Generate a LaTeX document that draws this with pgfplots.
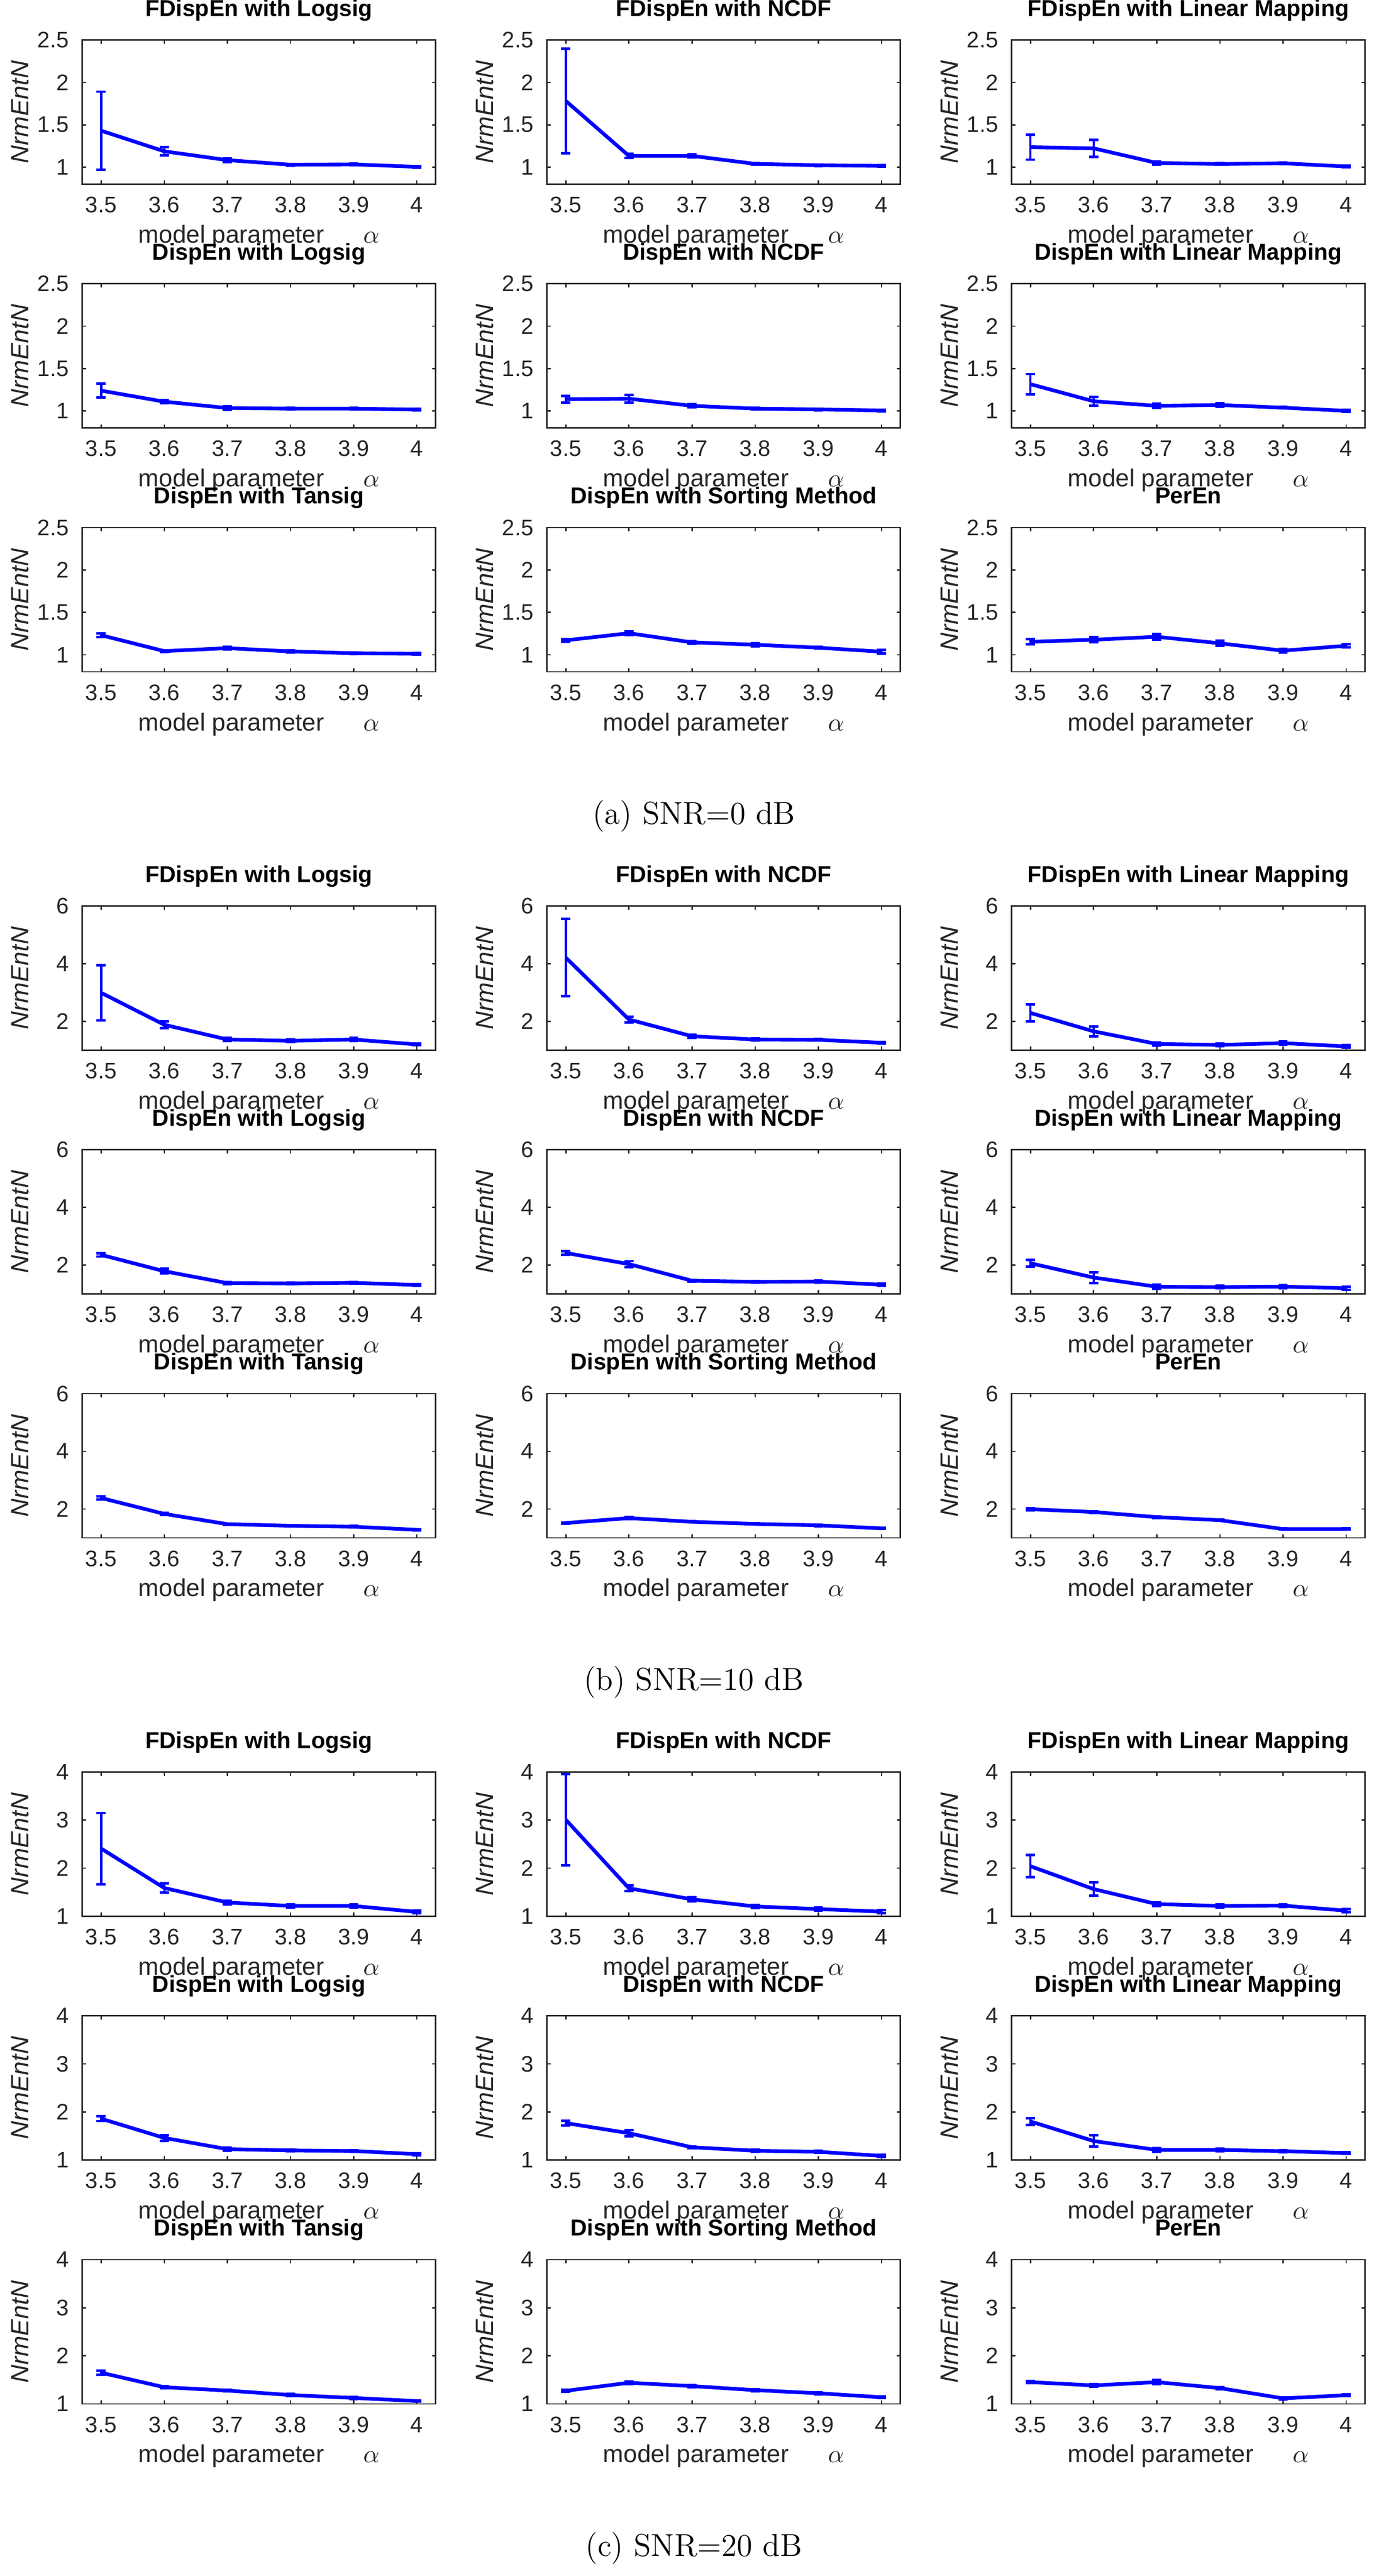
\documentclass[border=0pt]{standalone}
\usepackage{fontspec}
\usepackage{pgfplots}
\pgfplotsset{compat=1.18}
\newfontfamily\sansf{Liberation Sans}
\definecolor{axgray}{rgb}{0.15,0.15,0.15}
\pgfplotsset{
  panel/.style={
    width=154pt, height=62.8pt, scale only axis, anchor=north west,
    xmin=3.47, xmax=4.03,
    xtick={3.5,3.6,3.7,3.8,3.9,4}, xticklabels={3.5,3.6,3.7,3.8,3.9,4},
    tick align=inside, major tick length=1.6pt,
    axis line style={axgray, line width=0.6pt},
    every tick/.style={axgray, line width=0.6pt},
    tick label style={font=\sansf\fontsize{9.8}{10}\selectfont, text=axgray},
    /pgf/number format/assume math mode=true,
    xticklabel style={anchor=base, inner sep=0pt, yshift=-12.4pt},
    yticklabel style={anchor=east, inner sep=0pt, xshift=-5.6pt},
    title style={font=\sansf\bfseries\fontsize{10}{12}\selectfont, inner sep=0pt, at={(axis description cs:0.5,1)}, anchor=base, yshift=4.4pt},
    xlabel={model parameter\hspace{17pt}$\alpha$},
    xlabel style={font=\sansf\fontsize{10.7}{12}\selectfont, inner sep=0pt, text=axgray, at={(axis description cs:0.5,0)}, anchor=base, yshift=-25.6pt},
    ylabel={\itshape NrmEntN},
    ylabel style={font=\sansf\fontsize{10.9}{12}\selectfont, inner sep=0pt, text=axgray, at={(axis description cs:-0.175,0.5)}, anchor=center},
  },
  ga/.style={ymin=0.8, ymax=2.5, ytick={1,1.5,2,2.5}, yticklabels={1,1.5,2,2.5}},
  gb/.style={ymin=1, ymax=6, ytick={2,4,6}, yticklabels={2,4,6}},
  gc/.style={ymin=1, ymax=4, ytick={1,2,3,4}, yticklabels={1,2,3,4}},
  ser/.style={blue, line width=1.6pt, line join=round, mark=none,
    error bars/.cd, y dir=both, y explicit,
    error bar style={line width=1pt, blue},
    error mark options={rotate=90, line width=1.1pt, mark size=2pt, blue}},
}
\newcommand{\pnl}[5]{%
\begin{axis}[panel,#1,at={(#2,#3)},title={#4}]
\addplot[ser] coordinates {#5};
\end{axis}}
\begin{document}
\begin{tikzpicture}
\path[use as bounding box] (0,0) rectangle (598.4pt,-1122pt);
% ---------------- (a) SNR = 0 dB
\pnl{ga}{35.8pt}{-17.4pt}{FDispEn with Logsig}{(3.5,1.43) +- (0,0.46) (3.6,1.187) +- (0,0.05) (3.7,1.083) +- (0,0.02) (3.8,1.029) +- (0,0.01) (3.9,1.033) +- (0,0.01) (4,1.004) +- (0,0.01)}
\pnl{ga}{238.2pt}{-17.4pt}{FDispEn with NCDF}{(3.5,1.781) +- (0,0.615) (3.6,1.133) +- (0,0.025) (3.7,1.133) +- (0,0.02) (3.8,1.039) +- (0,0.01) (3.9,1.023) +- (0,0.01) (4,1.015) +- (0,0.01)}
\pnl{ga}{440.6pt}{-17.4pt}{FDispEn with Linear Mapping}{(3.5,1.236) +- (0,0.148) (3.6,1.222) +- (0,0.1) (3.7,1.05) +- (0,0.02) (3.8,1.037) +- (0,0.01) (3.9,1.046) +- (0,0.01) (4,1.008) +- (0,0.01)}
\pnl{ga}{35.8pt}{-123.6pt}{DispEn with Logsig}{(3.5,1.24) +- (0,0.082) (3.6,1.11) +- (0,0.02) (3.7,1.035) +- (0,0.02) (3.8,1.028) +- (0,0.01) (3.9,1.028) +- (0,0.01) (4,1.017) +- (0,0.01)}
\pnl{ga}{238.2pt}{-123.6pt}{DispEn with NCDF}{(3.5,1.139) +- (0,0.04) (3.6,1.145) +- (0,0.045) (3.7,1.061) +- (0,0.02) (3.8,1.028) +- (0,0.01) (3.9,1.019) +- (0,0.01) (4,1.006) +- (0,0.01)}
\pnl{ga}{440.6pt}{-123.6pt}{DispEn with Linear Mapping}{(3.5,1.316) +- (0,0.12) (3.6,1.115) +- (0,0.053) (3.7,1.061) +- (0,0.025) (3.8,1.071) +- (0,0.02) (3.9,1.039) +- (0,0.01) (4,1.002) +- (0,0.01)}
\pnl{ga}{35.8pt}{-229.8pt}{DispEn with Tansig}{(3.5,1.231) +- (0,0.02) (3.6,1.044) +- (0,0.01) (3.7,1.079) +- (0,0.015) (3.8,1.04) +- (0,0.01) (3.9,1.019) +- (0,0.01) (4,1.012) +- (0,0.01)}
\pnl{ga}{238.2pt}{-229.8pt}{DispEn with Sorting Method}{(3.5,1.171) +- (0,0.015) (3.6,1.255) +- (0,0.02) (3.7,1.147) +- (0,0.015) (3.8,1.119) +- (0,0.02) (3.9,1.084) +- (0,0.01) (4,1.037) +- (0,0.02)}
\pnl{ga}{440.6pt}{-229.8pt}{PerEn}{(3.5,1.154) +- (0,0.03) (3.6,1.178) +- (0,0.03) (3.7,1.213) +- (0,0.035) (3.8,1.136) +- (0,0.03) (3.9,1.049) +- (0,0.02) (4,1.107) +- (0,0.02)}
\node[font=\fontsize{13.8}{16}\selectfont, anchor=base, inner sep=0pt] at (302.2pt,-359pt) {(a) SNR=0 dB};
% ---------------- (b) SNR = 10 dB
\pnl{gb}{35.8pt}{-394.6pt}{FDispEn with Logsig}{(3.5,2.989) +- (0,0.95) (3.6,1.881) +- (0,0.12) (3.7,1.369) +- (0,0.05) (3.8,1.324) +- (0,0.05) (3.9,1.369) +- (0,0.05) (4,1.199) +- (0,0.03)}
\pnl{gb}{238.2pt}{-394.6pt}{FDispEn with NCDF}{(3.5,4.21) +- (0,1.34) (3.6,2.063) +- (0,0.1) (3.7,1.483) +- (0,0.05) (3.8,1.369) +- (0,0.04) (3.9,1.358) +- (0,0.03) (4,1.256) +- (0,0.03)}
\pnl{gb}{440.6pt}{-394.6pt}{FDispEn with Linear Mapping}{(3.5,2.29) +- (0,0.29) (3.6,1.653) +- (0,0.17) (3.7,1.216) +- (0,0.05) (3.8,1.182) +- (0,0.05) (3.9,1.244) +- (0,0.05) (4,1.131) +- (0,0.04)}
\pnl{gb}{35.8pt}{-500.8pt}{DispEn with Logsig}{(3.5,2.357) +- (0,0.06) (3.6,1.79) +- (0,0.08) (3.7,1.377) +- (0,0.04) (3.8,1.366) +- (0,0.03) (3.9,1.388) +- (0,0.03) (4,1.311) +- (0,0.03)}
\pnl{gb}{238.2pt}{-500.8pt}{DispEn with NCDF}{(3.5,2.423) +- (0,0.06) (3.6,2.037) +- (0,0.1) (3.7,1.46) +- (0,0.03) (3.8,1.421) +- (0,0.03) (3.9,1.432) +- (0,0.03) (4,1.322) +- (0,0.03)}
\pnl{gb}{440.6pt}{-500.8pt}{DispEn with Linear Mapping}{(3.5,2.065) +- (0,0.12) (3.6,1.57) +- (0,0.19) (3.7,1.25) +- (0,0.07) (3.8,1.239) +- (0,0.05) (3.9,1.256) +- (0,0.05) (4,1.201) +- (0,0.05)}
\pnl{gb}{35.8pt}{-607pt}{DispEn with Tansig}{(3.5,2.381) +- (0,0.05) (3.6,1.83) +- (0,0.03) (3.7,1.474) +- (0,0.02) (3.8,1.417) +- (0,0.02) (3.9,1.385) +- (0,0.03) (4,1.279) +- (0,0.02)}
\pnl{gb}{238.2pt}{-607pt}{DispEn with Sorting Method}{(3.5,1.514) +- (0,0.02) (3.6,1.684) +- (0,0.03) (3.7,1.555) +- (0,0.02) (3.8,1.482) +- (0,0.02) (3.9,1.433) +- (0,0.03) (4,1.328) +- (0,0.02)}
\pnl{gb}{440.6pt}{-607pt}{PerEn}{(3.5,1.992) +- (0,0.04) (3.6,1.895) +- (0,0.03) (3.7,1.717) +- (0,0.03) (3.8,1.611) +- (0,0.02) (3.9,1.304) +- (0,0.02) (4,1.304) +- (0,0.02)}
\node[font=\fontsize{13.8}{16}\selectfont, anchor=base, inner sep=0pt] at (302.2pt,-736.2pt) {(b) SNR=10 dB};
% ---------------- (c) SNR = 20 dB
\pnl{gc}{35.8pt}{-771.8pt}{FDispEn with Logsig}{(3.5,2.407) +- (0,0.74) (3.6,1.587) +- (0,0.1) (3.7,1.285) +- (0,0.04) (3.8,1.213) +- (0,0.03) (3.9,1.213) +- (0,0.03) (4,1.089) +- (0,0.03)}
\pnl{gc}{238.2pt}{-771.8pt}{FDispEn with NCDF}{(3.5,3.007) +- (0,0.95) (3.6,1.58) +- (0,0.06) (3.7,1.351) +- (0,0.04) (3.8,1.203) +- (0,0.03) (3.9,1.148) +- (0,0.03) (4,1.095) +- (0,0.03)}
\pnl{gc}{440.6pt}{-771.8pt}{FDispEn with Linear Mapping}{(3.5,2.039) +- (0,0.23) (3.6,1.564) +- (0,0.14) (3.7,1.252) +- (0,0.04) (3.8,1.213) +- (0,0.03) (3.9,1.22) +- (0,0.03) (4,1.115) +- (0,0.03)}
\pnl{gc}{35.8pt}{-878pt}{DispEn with Logsig}{(3.5,1.86) +- (0,0.05) (3.6,1.46) +- (0,0.06) (3.7,1.226) +- (0,0.03) (3.8,1.2) +- (0,0.02) (3.9,1.187) +- (0,0.02) (4,1.122) +- (0,0.02)}
\pnl{gc}{238.2pt}{-878pt}{DispEn with NCDF}{(3.5,1.769) +- (0,0.05) (3.6,1.558) +- (0,0.06) (3.7,1.265) +- (0,0.02) (3.8,1.193) +- (0,0.02) (3.9,1.171) +- (0,0.02) (4,1.086) +- (0,0.02)}
\pnl{gc}{440.6pt}{-878pt}{DispEn with Linear Mapping}{(3.5,1.802) +- (0,0.07) (3.6,1.395) +- (0,0.12) (3.7,1.21) +- (0,0.04) (3.8,1.21) +- (0,0.03) (3.9,1.184) +- (0,0.02) (4,1.145) +- (0,0.02)}
\pnl{gc}{35.8pt}{-984.2pt}{DispEn with Tansig}{(3.5,1.647) +- (0,0.04) (3.6,1.346) +- (0,0.02) (3.7,1.276) +- (0,0.02) (3.8,1.183) +- (0,0.02) (3.9,1.123) +- (0,0.02) (4,1.058) +- (0,0.01)}
\pnl{gc}{238.2pt}{-984.2pt}{DispEn with Sorting Method}{(3.5,1.271) +- (0,0.02) (3.6,1.439) +- (0,0.03) (3.7,1.369) +- (0,0.02) (3.8,1.285) +- (0,0.02) (3.9,1.22) +- (0,0.02) (4,1.137) +- (0,0.02)}
\pnl{gc}{440.6pt}{-984.2pt}{PerEn}{(3.5,1.452) +- (0,0.02) (3.6,1.383) +- (0,0.03) (3.7,1.452) +- (0,0.04) (3.8,1.327) +- (0,0.02) (3.9,1.114) +- (0,0.02) (4,1.179) +- (0,0.02)}
\node[font=\fontsize{13.8}{16}\selectfont, anchor=base, inner sep=0pt] at (302.2pt,-1113.4pt) {(c) SNR=20 dB};
\end{tikzpicture}
\end{document}
